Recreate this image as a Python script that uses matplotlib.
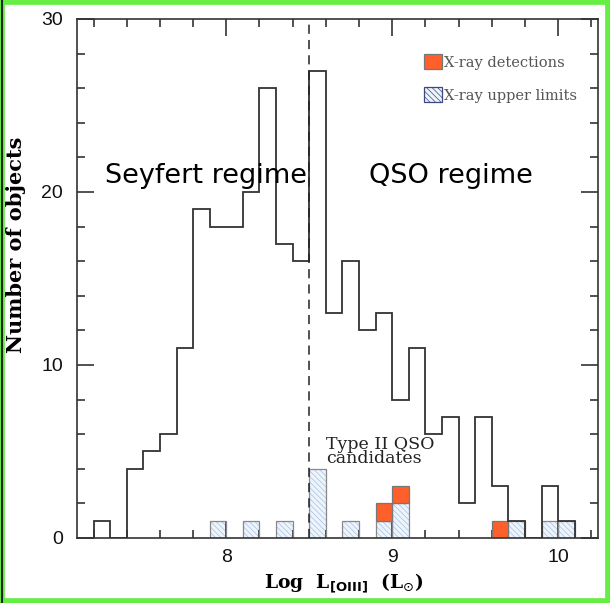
import numpy as np
import matplotlib
matplotlib.use("Agg")
import matplotlib.pyplot as plt
from matplotlib.patches import Patch, Rectangle
from matplotlib.ticker import MultipleLocator

# ── Data (bin width 0.1 dex) ─────────────────────────────────────────────────
bin_lo = [7.2, 7.3, 7.4, 7.5, 7.6, 7.7, 7.8, 7.9, 8.0, 8.1,
          8.2, 8.3, 8.4, 8.5, 8.6, 8.7, 8.8, 8.9, 9.0, 9.1,
          9.2, 9.3, 9.4, 9.5, 9.6, 9.7, 9.8, 9.9, 10.0]
all_counts = [1, 0, 4, 5, 6, 11, 19, 18, 18, 20,
              26, 17, 16, 27, 13, 16, 12, 13, 8, 11,
              6, 7, 2, 7, 3, 1, 0, 3, 1]

# X-ray upper limits (hatched, bottom of stack)
ul_bins = [7.9, 8.1, 8.3, 8.5, 8.7, 8.9, 9.0, 9.7, 9.9, 10.0]
ul_counts = [1, 1, 1, 4, 1, 1, 2, 1, 1, 1]

# X-ray detections (orange, stacked on top of the upper limits)
det_bins = [8.9, 9.0, 9.6]
det_counts = [1, 1, 1]

BIN_W = 0.1
SPLIT = 8.5

plt.rcParams["hatch.linewidth"] = 0.5

fig = plt.figure(figsize=(6.10, 6.03), dpi=100)
ax = fig.add_axes([0.1262, 0.1078, 0.8541, 0.8607])

# full sample
edges = list(bin_lo) + [bin_lo[-1] + BIN_W]
ax.stairs(all_counts, edges, color="#333333", lw=1.3, zorder=3)

# upper limits: hatched fill, then grey outline
ax.bar(ul_bins, ul_counts, width=BIN_W, align="edge",
       facecolor="#eef4fc", edgecolor="#a4bfe6", hatch="\\\\\\\\\\\\",
       linewidth=0, zorder=1)
ax.bar(ul_bins, ul_counts, width=BIN_W, align="edge",
       facecolor="none", edgecolor="#888888", linewidth=0.9, zorder=2)

# detections stacked on upper limits
ul_map = dict(zip(ul_bins, ul_counts))
det_bottom = [ul_map.get(b, 0) for b in det_bins]
ax.bar(det_bins, det_counts, width=BIN_W, align="edge", bottom=det_bottom,
       facecolor="#ff5f2a", edgecolor="#777777", linewidth=0.9, zorder=2)

ax.axvline(SPLIT, color="#222222", lw=1.1, ls=(0, (6, 4)), zorder=4)

ax.set_xlim(7.1, 10.24)
ax.set_ylim(0, 30)

ax.xaxis.set_major_locator(MultipleLocator(1))
ax.xaxis.set_minor_locator(MultipleLocator(0.2))
ax.yaxis.set_major_locator(MultipleLocator(10))
ax.yaxis.set_minor_locator(MultipleLocator(2))
ax.tick_params(which="both", direction="in", top=True, right=True,
               color="#333333", width=1.2, labelsize=14)
ax.tick_params(which="major", length=12)
ax.tick_params(which="minor", length=6)
ax.tick_params(axis="x", pad=8)
ax.tick_params(axis="y", pad=10)
for lab in ax.get_xticklabels() + ax.get_yticklabels():
    lab.set_family("Liberation Sans")
    lab.set_color("#111111")
for s in ax.spines.values():
    s.set_color("#333333")
    s.set_linewidth(1.2)

ax.set_ylabel("Number of objects", family="DejaVu Serif", fontweight="bold",
              fontsize=15)
ax.yaxis.set_label_coords(-0.098, 0.565)
ax.set_xlabel(r"Log  L$_{\mathbf{[OIII]}}$  (L$_{\odot}$)", family="DejaVu Serif",
              fontweight="bold", fontsize=13.5, labelpad=5)
ax.xaxis.set_label_coords(0.512, -0.065)

ax.text(7.875, 20.9, "Seyfert regime", fontsize=19.5, ha="center", va="center",
        family="DejaVu Sans")
ax.text(9.351, 20.9, "QSO regime", fontsize=19.5, ha="center", va="center",
        family="DejaVu Sans")
ax.text(8.6, 5.0, "Type II QSO\ncandidates", fontsize=12.5, ha="left",
        va="center", family="DejaVu Serif", color="#222222", linespacing=0.75)

handles = [Patch(facecolor="#ff5f2a", edgecolor="#777777", lw=0.9),
           Patch(facecolor="#eef4fc", edgecolor="#3a4a80", hatch="\\\\\\\\\\\\", lw=0.9)]
leg = ax.legend(handles, ["X-ray detections", "X-ray upper limits"],
                loc="upper left", bbox_to_anchor=(0.654, 0.944), frameon=False,
                handlelength=1.25, handleheight=1.25, handletextpad=0.15,
                labelspacing=1.2, borderaxespad=0,
                prop={"family": "DejaVu Serif", "size": 10.5})
for t in leg.get_texts():
    t.set_color("#555555")

# green frame around the whole picture
fig.patches.append(Rectangle((0, 0), 1, 1, transform=fig.transFigure,
                             fill=False, edgecolor="#66ee44", lw=7, zorder=10))
fig.patches.append(Rectangle((0.004, 0), 0, 1, transform=fig.transFigure,
                             fill=False, edgecolor="#222222", lw=1.5, zorder=11))

fig.savefig("out.png", dpi=100)
